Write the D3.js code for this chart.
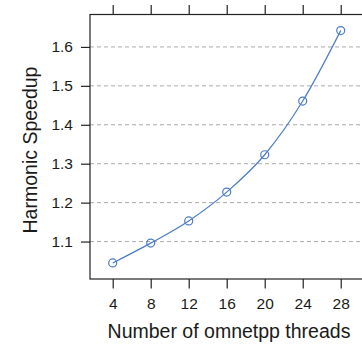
<!DOCTYPE html>
<html>
<head>
<meta charset="utf-8">
<script src="https://cdn.jsdelivr.net/npm/d3@7"></script>
<style>
  body { margin: 0; background: #fff; }
  text { font-family: "Liberation Sans", Arial, sans-serif; fill: #1a1a1a; }
</style>
</head>
<body>
<div class="chart"></div>
<script>
// data
var threads = [4, 8, 12, 16, 20, 24, 28];
var speedup = [1.045, 1.096, 1.153, 1.227, 1.323, 1.461, 1.642];
var yTicks = [1.1, 1.2, 1.3, 1.4, 1.5, 1.6];
var xTitle = "Number of omnetpp threads";
var yTitle = "Harmonic Speedup";

var width = 362, height = 345;
var panelLeft = 90, panelTop = 14.5, panelBottom = 279;

var x = d3.scaleLinear().domain([1.61, 30.24]).range([panelLeft, 362]);
var y = d3.scaleLinear().domain([1.0038, 1.6833]).range([panelBottom, panelTop]);

var svg = d3.select(".chart").append("svg")
    .attr("width", width)
    .attr("height", height);

//grid lines
svg.append("g").selectAll("line")
    .data(yTicks)
    .enter().append("line")
    .attr("x1", panelLeft)
    .attr("x2", width)
    .attr("y1", d => y(d))
    .attr("y2", d => y(d))
    .style("stroke", "#aaaaaa")
    .style("stroke-width", 1)
    .style("stroke-dasharray", "4,3");

//panel frame (right side is cut off by the window)
svg.append("rect")
    .attr("x", panelLeft)
    .attr("y", panelTop)
    .attr("width", width - panelLeft + 5)
    .attr("height", panelBottom - panelTop)
    .attr("fill", "none")
    .style("stroke", "#222")
    .style("stroke-width", 1.2);

//axes
var yAxis = d3.axisLeft(y).tickValues(yTicks).tickSize(9).tickPadding(8).tickFormat(d3.format(".1f"));
var xAxis = d3.axisBottom(x).tickValues(threads).tickSize(9.5).tickPadding(9);
var xTop = d3.axisTop(x).tickValues(threads).tickSize(9.5).tickFormat("");

var gy = svg.append("g").attr("transform", "translate(" + panelLeft + ",0)").call(yAxis);
var gx = svg.append("g").attr("transform", "translate(0," + panelBottom + ")").call(xAxis);
var gt = svg.append("g").attr("transform", "translate(0," + panelTop + ")").call(xTop);

[gy, gx, gt].forEach(g => {
    g.select(".domain").remove();
    g.selectAll(".tick line").style("stroke", "#222").style("stroke-width", 1.2);
    g.selectAll("text")
        .style("font-size", "15.5px")
        .style("font-family", "'Liberation Sans', Arial, sans-serif")
        .attr("fill", "#1a1a1a");
});

//line + points
var blue = "#4a7cc9";
svg.append("path")
    .datum(threads.map((t, i) => [t, speedup[i]]))
    .attr("fill", "none")
    .style("stroke", blue)
    .style("stroke-width", 1.2)
    .attr("d", d3.line().x(d => x(d[0])).y(d => y(d[1])).curve(d3.curveMonotoneX));

svg.append("g").selectAll("circle")
    .data(threads)
    .enter().append("circle")
    .attr("cx", d => x(d))
    .attr("cy", (d, i) => y(speedup[i]))
    .attr("r", 4)
    .attr("fill", "none")
    .style("stroke", blue)
    .style("stroke-width", 1.2);

//titles
svg.append("text")
    .attr("x", 229)
    .attr("y", 338)
    .attr("text-anchor", "middle")
    .style("font-size", "19.5px")
    .text(xTitle);

svg.append("text")
    .attr("transform", "translate(37,150) rotate(-90)")
    .attr("text-anchor", "middle")
    .style("font-size", "19.5px")
    .text(yTitle);
</script>
</body>
</html>
